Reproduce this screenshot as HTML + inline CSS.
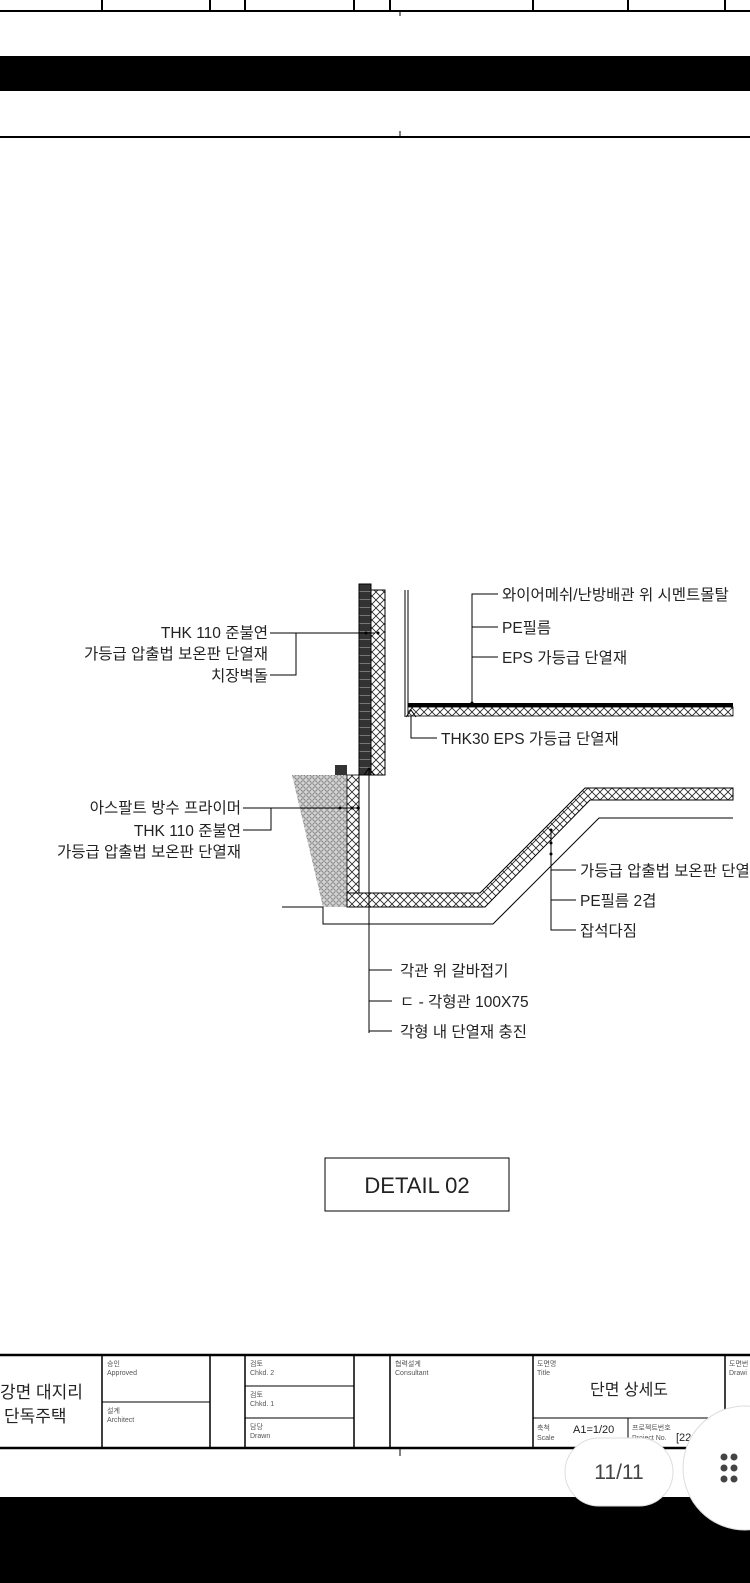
<!DOCTYPE html>
<html><head><meta charset="utf-8"><style>
body{margin:0;width:750px;height:1583px;overflow:hidden;background:#fff;font-family:"Liberation Sans","Noto Sans CJK KR",sans-serif;}
svg{position:absolute;left:0;top:0}
.t{font-family:"Liberation Sans","Noto Sans CJK KR",sans-serif;font-size:15.5px;fill:#222}
.s{font-family:"Liberation Sans","Noto Sans CJK KR",sans-serif;font-size:7px;fill:#555}
</style></head><body>
<svg width="750" height="1583" viewBox="0 0 750 1583">
<defs>
<pattern id="x" width="8" height="8" patternUnits="userSpaceOnUse"><rect width="8" height="8" fill="#fff"/><path d="M0 0L8 8M8 0L0 8" stroke="#222" stroke-width="0.8"/></pattern>
<pattern id="g" width="6" height="6" patternUnits="userSpaceOnUse"><rect width="6" height="6" fill="#d4d4d4"/><circle cx="3" cy="3" r="2.2" fill="none" stroke="#777" stroke-width="0.8"/></pattern>
<pattern id="b" width="12" height="8" patternUnits="userSpaceOnUse"><rect width="12" height="8" fill="#333"/><path d="M0 7.5H12" stroke="#888" stroke-width="0.8"/></pattern>
</defs>
<!-- top strip -->
<g stroke="#000" stroke-width="2" fill="none">
<line x1="0" y1="11" x2="750" y2="11"/>
<path d="M102 0V11M210 0V11M245 0V11M354 0V11M390 0V11M533 0V11M628 0V11M725 0V11"/>
</g>
<rect x="0" y="56" width="750" height="35" fill="#000"/>
<line x1="0" y1="137" x2="750" y2="137" stroke="#000" stroke-width="2"/>
<line x1="400" y1="11" x2="400" y2="16" stroke="#000"/>
<line x1="400" y1="131" x2="400" y2="137" stroke="#000"/>

<!-- drawing -->
<rect x="359" y="584" width="12" height="191" fill="url(#b)" stroke="#000"/>
<rect x="371" y="590" width="14" height="185" fill="url(#x)" stroke="#000"/>
<line x1="405" y1="590" x2="405" y2="717" stroke="#000"/>
<line x1="408" y1="590" x2="408" y2="717" stroke="#000"/>
<rect x="408" y="703" width="325" height="4" fill="#000"/>
<rect x="408" y="707" width="325" height="9" fill="url(#x)" stroke="#000" stroke-width="0.8"/>
<rect x="335" y="765" width="12" height="10" fill="#333"/>
<polygon points="292,775 347,775 347,907 323,907" fill="url(#g)"/>
<rect x="347" y="775" width="12" height="120" fill="url(#x)" stroke="#000" stroke-width="0.8"/>
<polygon points="347,893 480,893 585,788 733,788 733,800 590,800 485,907 347,907" fill="url(#x)" stroke="#000"/>
<polyline points="359,775 359,893" fill="none" stroke="#000"/>
<polyline points="282,907 323,907 323,924 493,924 599,818 733,818" fill="none" stroke="#000"/>
<line x1="369" y1="768" x2="369" y2="1033" stroke="#000"/>
<path d="M364 775L369 768L374 775M406 717L411 710L416 717" fill="none" stroke="#000"/>

<!-- leaders -->
<g stroke="#000" fill="none">
<path d="M270 633H375M296 633V675H270"/>
<path d="M243 808H360M271 808V830H243"/>
<path d="M472 703V594H498M472 627H498M472 657H498"/>
<path d="M411 716V738H437"/>
<path d="M551 830V930H576M551 870H576M551 900H576"/>
<path d="M369 970H392M369 1001H392M369 1031H392"/>
</g>
<g fill="#000"><circle cx="366" cy="633" r="1.5"/><circle cx="378" cy="633" r="1.5"/><circle cx="340" cy="808" r="1.5"/><circle cx="352" cy="808" r="1.5"/><circle cx="358" cy="808" r="1.5"/><circle cx="472" cy="703" r="1.5"/><circle cx="551" cy="830" r="1.5"/><circle cx="551" cy="843" r="1.5"/><circle cx="551" cy="854" r="1.5"/></g>

<g class="t">
<text x="268" y="638" text-anchor="end">THK 110 준불연</text>
<text x="268" y="659" text-anchor="end">가등급 압출법 보온판 단열재</text>
<text x="268" y="681" text-anchor="end">치장벽돌</text>
<text x="241" y="813" text-anchor="end">아스팔트 방수 프라이머</text>
<text x="241" y="836" text-anchor="end">THK 110 준불연</text>
<text x="241" y="857" text-anchor="end">가등급 압출법 보온판 단열재</text>
<text x="502" y="600">와이어메쉬/난방배관 위 시멘트몰탈</text>
<text x="502" y="633">PE필름</text>
<text x="502" y="663">EPS 가등급 단열재</text>
<text x="441" y="744">THK30 EPS 가등급 단열재</text>
<text x="580" y="876">가등급 압출법 보온판 단열재</text>
<text x="580" y="906">PE필름 2겹</text>
<text x="580" y="936">잡석다짐</text>
<text x="400" y="976">각관 위 갈바접기</text>
<text x="400" y="1007">ㄷ - 각형관 100X75</text>
<text x="400" y="1037">각형 내 단열재 충진</text>
</g>
<rect x="325" y="1158" width="184" height="53" fill="none" stroke="#000"/>
<text x="417" y="1193" text-anchor="middle" style="font-family:'Liberation Sans',sans-serif;font-size:22px;fill:#222">DETAIL 02</text>

<!-- title block -->
<g stroke="#000" fill="none">
<rect x="-2" y="1355" width="760" height="93" stroke-width="2.5"/>
<path d="M102 1355V1448M210 1355V1448M245 1355V1448M354 1355V1448M390 1355V1448M533 1355V1448M725 1355V1448" stroke-width="1.5"/>
<path d="M102 1402H210M245 1386H354M245 1418H354M533 1418H725M628 1418V1448"/>
</g>
<line x1="400" y1="1448" x2="400" y2="1456" stroke="#000"/>
<g class="t" style="font-size:17px">
<text x="0" y="1398">강면 대지리</text>
<text x="4" y="1422">단독주택</text>
</g>
<g class="s">
<text x="107" y="1366">승인</text><text x="107" y="1375">Approved</text>
<text x="107" y="1413">설계</text><text x="107" y="1422">Architect</text>
<text x="250" y="1366">검토</text><text x="250" y="1375">Chkd. 2</text>
<text x="250" y="1397">검토</text><text x="250" y="1406">Chkd. 1</text>
<text x="250" y="1429">담당</text><text x="250" y="1438">Drawn</text>
<text x="395" y="1366">협력설계</text><text x="395" y="1375">Consultant</text>
<text x="537" y="1366">도면명</text><text x="537" y="1375">Title</text>
<text x="537" y="1430">축척</text><text x="537" y="1440">Scale</text>
<text x="632" y="1430">프로젝트번호</text><text x="632" y="1440">Project No.</text>
<text x="729" y="1366">도면번</text><text x="729" y="1375">Drawi</text>
</g>
<text x="629" y="1395" text-anchor="middle" class="t" style="font-size:16px">단면 상세도</text>
<text x="573" y="1433" class="t" style="font-size:11px">A1=1/20</text>
<text x="676" y="1441" class="t" style="font-size:11px">[22-0</text>

<!-- bottom -->
<rect x="0" y="1497" width="750" height="86" fill="#000"/>
<rect x="565" y="1438" width="108" height="68" rx="34" fill="#fff" stroke="#ddd"/>
<text x="619" y="1479" text-anchor="middle" style="font-family:'Liberation Sans',sans-serif;font-size:21px;fill:#444">11/11</text>
<circle cx="745" cy="1468" r="62" fill="#fff" stroke="#ddd"/>
<g fill="#444"><circle cx="724" cy="1457" r="3.5"/><circle cx="734" cy="1457" r="3.5"/><circle cx="724" cy="1468" r="3.5"/><circle cx="734" cy="1468" r="3.5"/><circle cx="724" cy="1479" r="3.5"/><circle cx="734" cy="1479" r="3.5"/></g>
</svg>
</body></html>
